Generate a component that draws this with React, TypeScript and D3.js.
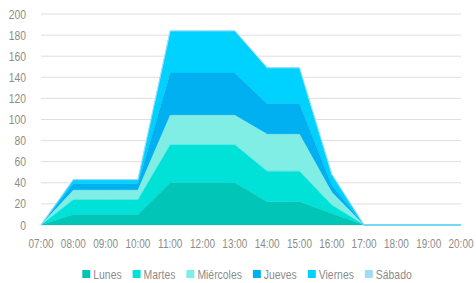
import React, { useEffect, useRef } from 'react';
import * as d3 from 'd3';

const hours = ['07:00', '08:00', '09:00', '10:00', '11:00', '12:00', '13:00', '14:00', '15:00', '16:00', '17:00', '18:00', '19:00', '20:00'];
const seriesNames = ['Lunes', 'Martes', 'Miércoles', 'Jueves', 'Viernes', 'Sábado'];
const lunes = [0, 10, 10, 10, 40, 40, 40, 22, 22, 11, 0, 0, 0, 0];
const martes = [0, 14, 14, 14, 36, 36, 36, 29, 29, 8, 0, 0, 0, 0];
const miercoles = [0, 9, 9, 9, 28, 28, 28, 35, 35, 12, 0, 0, 0, 0];
const jueves = [0, 6, 6, 6, 40, 40, 40, 29, 29, 7, 0, 0, 0, 0];
const viernes = [0, 4, 4, 4, 40, 40, 40, 34, 34, 10, 0, 0, 0, 0];
const sabado = [0, 0, 0, 0, 0, 0, 0, 0, 0, 0, 0, 0, 0, 0];
const yTicks = [0, 20, 40, 60, 80, 100, 120, 140, 160, 180, 200];
const colors = ['#00c5b7', '#00e2d8', '#80eee4', '#00b0f0', '#00d2ff', '#9fdcfa'];

const FONT = '"Liberation Sans", Arial, sans-serif';
const SQUEEZE = 0.8; // narrow look of the original font

function App() {
    const ref = useRef<SVGSVGElement>(null);

    useEffect(() => {
        const svg = d3.select(ref.current);
        svg.selectAll('*').remove();
        const left = 41, right = 461, top = 14, bottom = 225;

        const x = d3.scalePoint<string>().domain(hours).range([left, right]);
        const y = d3.scaleLinear().domain([0, 200]).range([bottom, top]);

        const all = [lunes, martes, miercoles, jueves, viernes, sabado];
        const rows = hours.map((h, i) => {
            const r: any = { hour: h };
            seriesNames.forEach((s, j) => { r[s] = all[j][i]; });
            return r;
        });
        const stacked = d3.stack().keys(seriesNames)(rows);

        // grid
        svg.append('g')
            .selectAll('line')
            .data(yTicks)
            .join('line')
            .attr('x1', left).attr('x2', right)
            .attr('y1', d => y(d)).attr('y2', d => y(d))
            .attr('stroke', '#dedede').attr('stroke-width', 1);

        const area = d3.area<any>()
            .x((d, i) => x(hours[i]) as number)
            .y0(d => y(d[0]))
            .y1(d => y(d[1]));
        const line = d3.line<any>()
            .x((d, i) => x(hours[i]) as number)
            .y(d => y(d[1]));

        svg.append('g').selectAll('path')
            .data(stacked)
            .join('path')
            .attr('d', d => area(d as any))
            .attr('fill', (d, i) => colors[i]);

        svg.append('g').selectAll('path')
            .data(stacked)
            .join('path')
            .attr('d', d => line(d as any))
            .attr('fill', 'none')
            .attr('stroke', (d, i) => colors[i])
            .attr('stroke-width', 1)
            .attr('opacity', (d, i) => i === 5 ? 1 : 0.5);

        const label = (sel: any) => sel
            .attr('font-family', FONT)
            .attr('font-size', 13)
            .attr('fill', '#8c8c8c');

        // y labels
        svg.append('g').selectAll('text')
            .data(yTicks)
            .join('text')
            .attr('transform', d => 'translate(26,' + y(d) + ') scale(' + SQUEEZE + ',1)')
            .attr('dy', '0.35em')
            .attr('text-anchor', 'end')
            .call(label)
            .text(d => d);

        // x labels
        svg.append('g').selectAll('text')
            .data(hours)
            .join('text')
            .attr('transform', d => 'translate(' + x(d) + ',248) scale(' + (SQUEEZE * 0.96) + ',1)')
            .attr('text-anchor', 'middle')
            .call(label)
            .text(d => d);

        // legend
        const lg = svg.append('g');
        let cx = 0;
        seriesNames.forEach((s, i) => {
            const it = lg.append('g').attr('transform', 'translate(' + cx + ',0)');
            it.append('rect').attr('x', 0).attr('y', 270).attr('width', 8).attr('height', 8).attr('fill', colors[i]);
            const t = it.append('text')
                .attr('transform', 'translate(11,278.5) scale(' + SQUEEZE + ',1)')
                .call(label)
                .text(s);
            const w = (t.node() as SVGTextElement).getComputedTextLength() * SQUEEZE;
            cx += 11 + w + 11;
        });
        const total = cx - 11;
        lg.attr('transform', 'translate(' + (247 - total / 2) + ',0)');
    }, []);

    return (
        <svg ref={ref} width={476} height={283} style={{ position: 'absolute', left: 0, top: 0, background: '#fff' }} />
    );
}

export default App;
